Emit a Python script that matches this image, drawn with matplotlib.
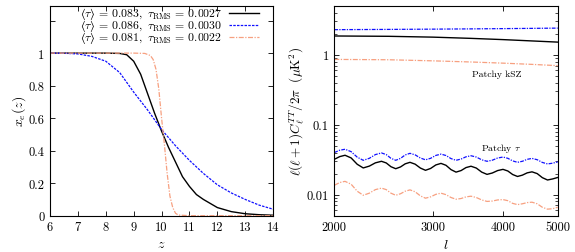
import numpy as np
import matplotlib
matplotlib.use("Agg")
import matplotlib.pyplot as plt
from matplotlib.ticker import FixedLocator, NullLocator, LogLocator, NullFormatter

plt.rcParams['font.family'] = 'serif'
plt.rcParams['font.serif'] = ['cmr10']
plt.rcParams['mathtext.fontset'] = 'cm'
plt.rcParams['axes.formatter.use_mathtext'] = True

# ---- left panel: ionisation history x_e(z) ----
z_black = [6, 7, 8, 8.5, 8.75, 9.0, 9.25, 9.5, 9.75, 10.0, 10.25, 10.5, 10.75,
           11.0, 11.25, 11.5, 12.0, 12.5, 13.0, 13.5, 14.0]
xe_black = [1, 1, 1, 0.998, 0.99, 0.95, 0.87, 0.75, 0.63, 0.52, 0.42, 0.33, 0.24,
            0.18, 0.13, 0.10, 0.05, 0.025, 0.012, 0.006, 0.003]

z_blue = [6, 6.5, 7, 7.5, 8, 8.5, 9, 9.5, 10, 10.5, 11, 11.5, 12, 12.5, 13, 13.5, 14]
xe_blue = [1, 0.999, 0.995, 0.98, 0.95, 0.88, 0.76, 0.65, 0.53, 0.43, 0.34, 0.26,
           0.19, 0.14, 0.10, 0.065, 0.04]

z_orange = [6, 8, 9, 9.4, 9.6, 9.7, 9.8, 9.9, 10.0, 10.1, 10.2, 10.3, 10.4, 10.5,
            10.6, 11, 14]
xe_orange = [1, 1, 1, 0.998, 0.985, 0.96, 0.9, 0.78, 0.6, 0.44, 0.26, 0.12, 0.05,
             0.015, 0.004, 0, 0]

labels = ['$\u27e8\\tau\u27e9\\,=\\,0.083,\\ \\tau_{\\rm RMS}\\,=\\,0.0027$',
          '$\u27e8\\tau\u27e9\\,=\\,0.086,\\ \\tau_{\\rm RMS}\\,=\\,0.0030$',
          '$\u27e8\\tau\u27e9\\,=\\,0.081,\\ \\tau_{\\rm RMS}\\,=\\,0.0022$']

# ---- right panel: power spectra ----
ell_ksz = [2000, 2500, 3000, 3500, 4000, 4500, 5000]
ksz_black = [1.86, 1.84, 1.79, 1.72, 1.65, 1.58, 1.52]
ksz_blue = [2.29, 2.31, 2.33, 2.35, 2.37, 2.39, 2.41]
ksz_orange = [0.86, 0.85, 0.82, 0.79, 0.76, 0.73, 0.70]

ell_tau = [2000, 2045, 2090, 2143, 2197, 2252, 2309, 2367, 2427, 2475, 2523, 2573,
           2624, 2675, 2728, 2786, 2847, 2907, 2969, 3033, 3098, 3162, 3228, 3295,
           3364, 3433, 3504, 3581, 3661, 3742, 3824, 3908, 3995, 4075, 4157, 4240,
           4325, 4412, 4500, 4597, 4695, 4796, 4900, 5000]
tau_black = [0.032, 0.0350, 0.0366, 0.0335, 0.0272, 0.0241, 0.0256, 0.0285, 0.030,
             0.0284, 0.0251, 0.0235, 0.0249, 0.0276, 0.029, 0.0273, 0.0240, 0.0223,
             0.0237, 0.0266, 0.028, 0.0263, 0.0228, 0.021, 0.0221, 0.0244, 0.0255,
             0.024, 0.021, 0.0195, 0.0204, 0.0221, 0.023, 0.0218, 0.0194, 0.0182,
             0.0190, 0.0205, 0.0212, 0.0200, 0.0175, 0.0162, 0.0168, 0.0176]
tau_blue = [0.040, 0.0432, 0.0446, 0.0412, 0.0344, 0.031, 0.0331, 0.0374, 0.0395,
            0.0374, 0.0331, 0.031, 0.033, 0.037, 0.039, 0.0371, 0.0334, 0.0315,
            0.0331, 0.0364, 0.038, 0.0363, 0.0328, 0.031, 0.0323, 0.0348, 0.036,
            0.0345, 0.0315, 0.030, 0.0311, 0.0334, 0.0345, 0.0331, 0.0304, 0.029,
            0.030, 0.032, 0.033, 0.0316, 0.0289, 0.0275, 0.0282, 0.0294]
tau_orange = [0.0136, 0.0149, 0.0155, 0.0141, 0.0112, 0.0098, 0.0105, 0.0118,
              0.0124, 0.0118, 0.0105, 0.0098, 0.0103, 0.0112, 0.0117, 0.0110,
              0.0096, 0.0089, 0.0093, 0.0101, 0.0105, 0.0100, 0.0091, 0.0086,
              0.0088, 0.0093, 0.0095, 0.0091, 0.0084, 0.0080, 0.0081, 0.0084,
              0.0085, 0.0082, 0.0075, 0.0072, 0.0074, 0.0077, 0.0078, 0.0074,
              0.0066, 0.0062, 0.0063, 0.0066]

c_black = 'black'
c_blue = '#1010ff'
c_orange = '#f7a080'
sty_black = dict(color=c_black, lw=1.0)
sty_blue = dict(color=c_blue, lw=0.9, dashes=(2, 1))
sty_orange = dict(color=c_orange, lw=0.9, dashes=(4, 1.2, 1, 1.2))

fig = plt.figure(figsize=(5.75, 2.53), dpi=100)
ax1 = fig.add_axes([0.087, 0.1435, 0.388, 0.829])
ax2 = fig.add_axes([0.5814, 0.1435, 0.3885, 0.829])

ax1.plot(z_black, xe_black, **sty_black)
ax1.plot(z_blue, xe_blue, **sty_blue)
ax1.plot(z_orange, xe_orange, **sty_orange)
ax1.set_xlim(6, 14)
ax1.set_ylim(0, 1.29)
ax1.set_xticks(range(6, 15))
ax1.set_xticklabels([str(v) for v in range(6, 15)])
ax1.set_yticks([0, 0.2, 0.4, 0.6, 0.8, 1.0, 1.2])
ax1.set_yticklabels(['0', '0.2', '0.4', '0.6', '0.8', '1', ''])
ax1.set_xlabel(r'$z$', fontsize=10, labelpad=3)
ax1.set_ylabel(r'$x_e(z)$', fontsize=10, labelpad=0)

# gnuplot-style key: text on the left, sample line on the right
key_rows = [0.966, 0.909, 0.852]
for yk, lab, sty in zip(key_rows, labels, (sty_black, sty_blue, sty_orange)):
    ax1.text(0.772, yk, lab, transform=ax1.transAxes, ha='right', va='center', fontsize=8.5)
    ax1.plot([0.803, 0.937], [yk, yk], transform=ax1.transAxes, **sty)

ax2.plot(ell_ksz, ksz_blue, color=c_blue, lw=0.9, dashes=(3, 1, 1, 1))
ax2.plot(ell_ksz, ksz_black, **sty_black)
ax2.plot(ell_ksz, ksz_orange, **sty_orange)
ax2.plot(ell_tau, tau_blue, color=c_blue, lw=0.9, dashes=(3, 1, 1, 1))
ax2.plot(ell_tau, tau_black, **sty_black)
ax2.plot(ell_tau, tau_orange, **sty_orange)
ax2.set_xscale('log')
ax2.set_yscale('log')
ax2.set_xlim(2000, 5000)
ax2.set_ylim(0.005, 5)
ax2.xaxis.set_major_locator(FixedLocator([2000, 3000, 4000, 5000]))
ax2.xaxis.set_minor_locator(NullLocator())
ax2.set_xticklabels(['2000', '3000', '4000', '5000'])
ax2.yaxis.set_major_locator(FixedLocator([0.01, 0.1, 1]))
ax2.set_yticklabels(['0.01', '0.1', '1'])
ax2.yaxis.set_minor_locator(LogLocator(base=10, subs=np.arange(2, 10)))
ax2.yaxis.set_minor_formatter(NullFormatter())
ax2.set_xlabel(r'$l$', fontsize=10, labelpad=3)
ax2.set_ylabel(r'$\ell(\ell+1)C_\ell^{TT}/2\pi\ \ (\mu{\rm K}^2)$', fontsize=9.5, labelpad=-0.5)
ax2.text(3898, 0.528, 'Patchy kSZ', fontsize=7, ha='center', va='center')
ax2.text(3963, 0.0472, r'Patchy $\tau$', fontsize=7, ha='center', va='center')

for ax in (ax1, ax2):
    ax.tick_params(which='both', direction='in', top=True, right=True, labelsize=9, pad=4)
    ax.tick_params(which='major', length=3.5, width=0.6)
    ax.tick_params(which='minor', length=2, width=0.5)
    for s in ax.spines.values():
        s.set_linewidth(0.8)

fig.savefig('out.png', dpi=100)
